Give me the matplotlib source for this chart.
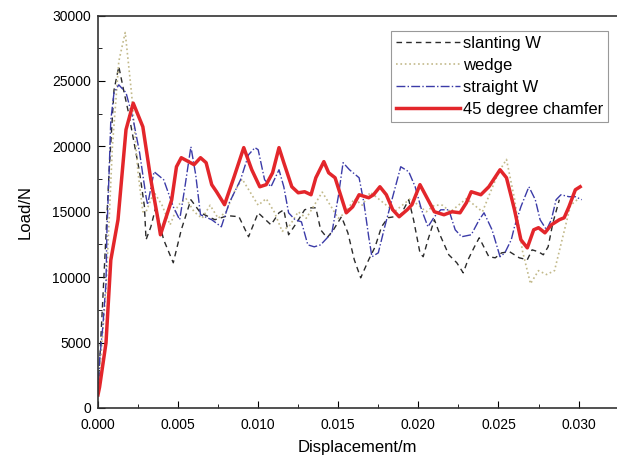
import matplotlib.pyplot as plt
from matplotlib.ticker import MultipleLocator

plt.rcParams['font.family'] = ['Liberation Sans', 'DejaVu Sans']

# slanting W (black dashed)
slant_x = [0.0, 0.0003, 0.0007, 0.0010, 0.0013, 0.0016, 0.0019, 0.0026, 0.0029, 0.0030,
           0.0033, 0.0036, 0.0041, 0.0047, 0.0052, 0.0058, 0.0064, 0.0073, 0.0081, 0.0088,
           0.0094, 0.0100, 0.0108, 0.0113, 0.0116, 0.0119, 0.0124, 0.0129, 0.0133, 0.0136,
           0.0139, 0.0143, 0.0147, 0.0152, 0.0156, 0.0160, 0.0164, 0.0169, 0.0173, 0.0177,
           0.0181, 0.0185, 0.0189, 0.0194, 0.0197, 0.0201, 0.0203, 0.0206, 0.0210, 0.0214,
           0.0219, 0.0224, 0.0228, 0.0231, 0.0235, 0.0238, 0.0244, 0.0248, 0.0252, 0.0257,
           0.0263, 0.0268, 0.0271, 0.0275, 0.0278, 0.0281, 0.0284, 0.0288]
slant_y = [1000, 8270, 18200, 24300, 26100, 24300, 22600, 18000, 15400, 12860,
           13850, 15300, 12860, 11100, 13620, 15920, 14920, 14390, 14700, 14620,
           13090, 14920, 14000, 14920, 15150, 13240, 14160, 15150, 15300, 15300,
           13620, 13010, 13620, 14620, 13390, 11330, 9950, 11330, 12320, 13850,
           14540, 14620, 14770, 15920, 14390, 11860, 11560, 12860, 14390, 13090,
           11710, 11100, 10330, 11330, 12320, 13010, 11560, 11480, 11860, 11940,
           11480, 11330, 12090, 11940, 11710, 12320, 14160, 15920]

# wedge (light dotted)
wedge_x = [0.0, 0.0005, 0.0009, 0.0013, 0.0017, 0.0021, 0.0025, 0.0028, 0.0030, 0.0035,
           0.0040, 0.0045, 0.0050, 0.0055, 0.0060, 0.0065, 0.0070, 0.0075, 0.0080, 0.0085,
           0.0090, 0.0095, 0.0100, 0.0105, 0.0110, 0.0115, 0.0120, 0.0125, 0.0130, 0.0135,
           0.0140, 0.0145, 0.0150, 0.0155, 0.0160, 0.0165, 0.0170, 0.0175, 0.0180, 0.0185,
           0.0190, 0.0195, 0.0200, 0.0205, 0.0210, 0.0215, 0.0220, 0.0225, 0.0230, 0.0235,
           0.0240, 0.0245, 0.0250, 0.0255, 0.0260, 0.0265, 0.0270, 0.0275, 0.0280, 0.0285,
           0.0290, 0.0295, 0.0300]
wedge_y = [1000, 9000, 20000, 26500, 28700, 24000, 18000, 15000, 15000, 16500,
           15500, 14000, 15500, 16000, 15000, 14500, 15500, 14500, 15000, 16500,
           17500, 16500, 15500, 16000, 15000, 13500, 14000, 15000, 14500, 15500,
           16500, 15500, 14500, 15000, 16000, 15500, 16500, 16000, 15500, 15000,
           15500, 16000, 15500, 15000, 15500, 15500, 15000, 15500, 16000, 15500,
           15000, 16500, 18000, 19000, 16000, 12000, 9500, 10500, 10200, 10500,
           13000, 15500, 16000]

# straight W (blue dash-dot)
straight_x = [0.0, 0.0001, 0.0003, 0.0005, 0.00056, 0.0007, 0.0008, 0.0010, 0.0013, 0.00175,
              0.0022, 0.0026, 0.0030, 0.0031, 0.0035, 0.0041, 0.0047, 0.0051, 0.0054, 0.0058,
              0.0061, 0.0064, 0.0071, 0.0077, 0.0078, 0.0082, 0.0089, 0.0094, 0.0098, 0.0100,
              0.0104, 0.0108, 0.0113, 0.0116, 0.0119, 0.0123, 0.0127, 0.0131, 0.0135, 0.0139,
              0.0146, 0.0150, 0.0153, 0.0157, 0.0163, 0.0166, 0.0169, 0.0171, 0.0175, 0.0179,
              0.0184, 0.0189, 0.0194, 0.0198, 0.0202, 0.0206, 0.0210, 0.0214, 0.0219, 0.0223,
              0.0227, 0.0233, 0.0238, 0.0241, 0.0246, 0.0251, 0.0254, 0.0258, 0.0260, 0.0264,
              0.0269, 0.0273, 0.0276, 0.0280, 0.0283, 0.0286, 0.0289, 0.0294, 0.0298, 0.0302]
straight_y = [1000, 3670, 6200, 9570, 13600, 18200, 22000, 24100, 24700, 24100,
              22040, 19500, 16150, 15540, 18060, 17450, 15380, 14390, 16680, 19970,
              17830, 14770, 14390, 13850, 14230, 15690, 17450, 19360, 19900, 19740,
              17450, 16910, 18210, 16910, 14920, 14390, 14230, 12470, 12320, 12470,
              13390, 16150, 18750, 18210, 17600, 15690, 13090, 11560, 11860, 13850,
              16150, 18440, 18060, 16910, 15150, 13850, 14620, 15150, 15150, 13620,
              13090, 13240, 14390, 14920, 13620, 11560, 11860, 12860, 13850, 15380,
              16910, 15920, 14390, 13620, 14390, 15920, 16300, 16150, 16150, 15920]

# 45 degree chamfer (red solid)
chamfer_x = [0.0, 0.0001, 0.0005, 0.0008, 0.00125, 0.00175, 0.0022, 0.0028, 0.0033, 0.00375,
             0.0039, 0.0046, 0.0049, 0.0052, 0.0060, 0.0064, 0.00675, 0.0071, 0.0074, 0.0079,
             0.0085, 0.0091, 0.0096, 0.0101, 0.0105, 0.0109, 0.0113, 0.0116, 0.0121, 0.0125,
             0.0129, 0.0133, 0.0136, 0.0141, 0.0144, 0.0148, 0.0151, 0.0155, 0.0159, 0.0163,
             0.0169, 0.0172, 0.0176, 0.0180, 0.0184, 0.0188, 0.0193, 0.0196, 0.0201, 0.0206,
             0.0210, 0.0216, 0.0221, 0.0226, 0.0230, 0.0233, 0.0239, 0.0244, 0.0251, 0.0255,
             0.0258, 0.0260, 0.0264, 0.0268, 0.0272, 0.0275, 0.0279, 0.0283, 0.0288, 0.0291,
             0.0294, 0.0298, 0.0301]
chamfer_y = [1000, 1600, 4970, 11300, 14390, 21280, 23300, 21500, 17450, 14390,
             13240, 15900, 18440, 19130, 18600, 19130, 18750, 17070, 16530, 15540,
             17680, 19900, 18210, 16910, 17070, 17980, 19900, 18750, 16910, 16450,
             16530, 16300, 17600, 18830, 17980, 17600, 16450, 14920, 15380, 16300,
             16070, 16300, 16910, 16300, 15150, 14620, 15150, 15540, 17070, 15920,
             15000, 14770, 15000, 14920, 15690, 16530, 16300, 16910, 18210, 17600,
             16150, 15150, 12860, 12240, 13620, 13780, 13390, 14000, 14390, 14540,
             15380, 16680, 16910]

fig = plt.figure(figsize=(6.17, 4.63), dpi=100)
ax = fig.add_axes([0.1588, 0.1188, 0.8412, 0.8477])

ax.plot(slant_x, slant_y, linestyle=(0, (4, 3)), color='#2b2b2b', linewidth=1.0, label='slanting W')
ax.plot(wedge_x, wedge_y, linestyle=':', color='#c2b98a', linewidth=1.2, label='wedge')
ax.plot(straight_x, straight_y, linestyle='-.', color='#3b3ba8', linewidth=1.0, label='straight W')
ax.plot(chamfer_x, chamfer_y, linestyle='-', color='#e3262b', linewidth=2.5,
        solid_joinstyle='round', label='45 degree chamfer')

ax.set_xlim(0, 0.0324)
ax.set_ylim(0, 30000)
ax.xaxis.set_major_locator(MultipleLocator(0.005))
ax.xaxis.set_minor_locator(MultipleLocator(0.0025))
ax.yaxis.set_major_locator(MultipleLocator(5000))
ax.yaxis.set_minor_locator(MultipleLocator(2500))
ax.xaxis.set_major_formatter(plt.FormatStrFormatter('%.3f'))
ax.tick_params(which='major', direction='in', length=5, labelsize=10, top=False, right=False)
ax.tick_params(axis='x', which='major', pad=7)
ax.tick_params(axis='y', which='major', pad=5)
ax.tick_params(which='minor', direction='in', length=3, top=False, right=False)
ax.spines['right'].set_visible(False)
for s in ['left', 'bottom', 'top']:
    ax.spines[s].set_linewidth(1.2)
    ax.spines[s].set_color('#333333')

ax.set_xlabel('Displacement/m', fontsize=12, labelpad=6)
ax.set_ylabel('Load/N', fontsize=12, labelpad=14)

leg = ax.legend(loc='upper right', bbox_to_anchor=(0.983, 0.9605), borderaxespad=0,
                fontsize=12, fancybox=False, framealpha=1, edgecolor='#999999',
                handlelength=3.8, handletextpad=0.2, labelspacing=0.42, borderpad=0.3)
leg.get_frame().set_linewidth(0.8)

fig.savefig('out.png', dpi=100)
